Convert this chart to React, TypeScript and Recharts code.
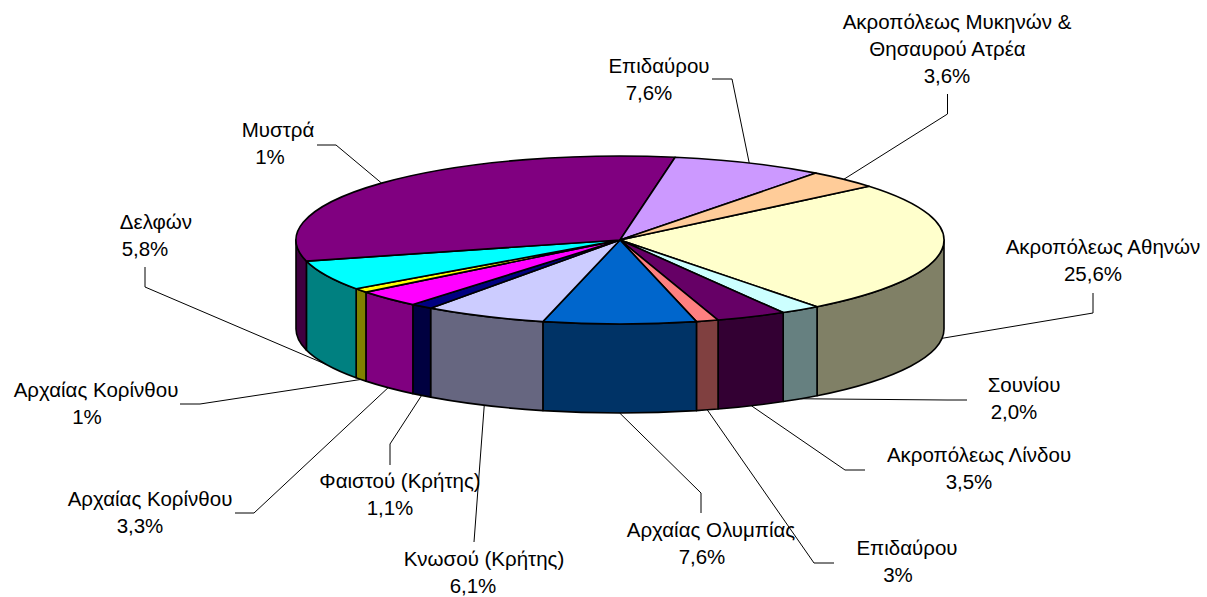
import { PieChart, Pie } from "recharts";

const SITES = [
  "Ακροπόλεως Αθηνών",
  "Σουνίου",
  "Ακροπόλεως Λίνδου",
  "Επιδαύρου",
  "Αρχαίας Ολυμπίας",
  "Κνωσού (Κρήτης)",
  "Φαιστού (Κρήτης)",
  "Αρχαίας Κορίνθου",
  "Αρχαίας Κορίνθου",
  "Δελφών",
  "Μυστρά",
  "Επιδαύρου",
  "Ακροπόλεως Μυκηνών &|Θησαυρού Ατρέα",
];
// slice sizes
const SHARES = [25.6, 2.0, 3.5, 1.1, 7.6, 6.1, 1.1, 3.3, 0.8, 5.8, 31.7, 7.6, 3.6];
// printed labels, the source clips a few of them ("1%", "3%")
const SHARE_LABELS = ["25,6%", "2,0%", "3,5%", "3%", "7,6%", "6,1%", "1,1%", "3,3%", "1%", "5,8%", "1%", "7,6%", "3,6%"];
const TOP_COLORS = ["#FFFFCC", "#CCFFFF", "#660066", "#FF8080", "#0066CC", "#CCCCFF", "#000080", "#FF00FF", "#FFFF00", "#00FFFF", "#800080", "#CC99FF", "#FFCC99"];
const SIDE_COLORS = ["#808066", "#668080", "#330033", "#804040", "#003366", "#666680", "#000040", "#800080", "#808000", "#008080", "#400040", "#665080", "#806650"];

// per-line text centres, first baseline, then the elbow/end of each leader line
const LABEL_X = [[1103, 1093], [1024, 1014], [979, 969], [907, 898], [711, 702], [484, 473], [400, 390], [150, 140], [96, 87], [156, 145], [278, 270], [659, 649], [957, 947.5, 947]];
const LABEL_Y = [254, 392, 462, 555, 537, 566, 488, 506, 397, 229, 137, 73, 29];
const LEADER_ENDS = [
  [[1093, 313], [1093, 293]],
  [[947, 400], [967, 400]],
  [[845, 470], [865, 470]],
  [[814, 563], [834, 563]],
  [[701, 493], [701, 513]],
  [[474, 542]],
  [[390, 444], [390, 465]],
  [[254, 513], [235, 513]],
  [[200, 404], [180, 404]],
  [[145, 287], [145, 267]],
  [[336, 145], [317, 145]],
  [[732, 79], [712, 79]],
  [[947.5, 114], [947.5, 94]],
];

const CX = 620;
const CY = 240;
const RX = 324;
const RY = 84;
const DEPTH = 89;
const LINE_HEIGHT = 27;
const FONT = "'Liberation Sans', Arial, sans-serif";

const data = SITES.map((name, i) => ({
  name,
  value: SHARES[i],
  fill: TOP_COLORS[i],
  side: SIDE_COLORS[i],
}));

const RAD = Math.PI / 180;

// flatten a recharts angle onto the tilted disc
function rim(angle: number, dy = 0) {
  return {
    x: CX + RX * Math.cos(angle * RAD),
    y: CY - RY * Math.sin(angle * RAD) + dy,
  };
}

function Slice(props: any) {
  const { startAngle, endAngle, fill, side } = props;
  const a = rim(startAngle);
  const b = rim(endAngle);
  const span = startAngle - endAngle;
  const top = `M${CX},${CY} L${a.x},${a.y} A${RX},${RY} 0 ${span > 180 ? 1 : 0} 1 ${b.x},${b.y} Z`;

  // the wall only shows on the front half, recharts angles 180..360
  let s = ((startAngle % 360) + 360) % 360;
  if (s < 180) s += 360;
  const wallStart = Math.min(s, 360);
  const wallEnd = Math.max(s - span, 180);
  let wall = null;
  if (wallStart > wallEnd) {
    const p = rim(wallStart);
    const q = rim(wallEnd);
    const p2 = rim(wallStart, DEPTH);
    const q2 = rim(wallEnd, DEPTH);
    wall = (
      <path
        d={`M${p.x},${p.y} A${RX},${RY} 0 0 1 ${q.x},${q.y} L${q2.x},${q2.y} A${RX},${RY} 0 0 0 ${p2.x},${p2.y} Z`}
        fill={side}
        stroke="#000"
        strokeWidth={1.6}
        strokeLinejoin="round"
      />
    );
  }

  return (
    <g>
      {wall}
      <path d={top} fill={fill} stroke="#000" strokeWidth={1.6} strokeLinejoin="round" />
    </g>
  );
}

function LeaderLine(props: any) {
  const { midAngle, index } = props;
  const m = ((midAngle % 360) + 360) % 360;
  const start = rim(midAngle, m > 180 ? DEPTH : 0);
  const pts = [[start.x, start.y], ...LEADER_ENDS[index]];
  return (
    <polyline
      points={pts.map((p) => p.join(",")).join(" ")}
      fill="none"
      stroke="#000"
      strokeWidth={1}
    />
  );
}

function SliceLabel(props: any) {
  const { index } = props;
  const lines = [...SITES[index].split("|"), SHARE_LABELS[index]];
  return (
    <text fontFamily={FONT} fontSize={20.5} fill="#000" textAnchor="middle">
      {lines.map((line, i) => (
        <tspan key={i} x={LABEL_X[index][i]} y={LABEL_Y[index] + i * LINE_HEIGHT}>
          {line}
        </tspan>
      ))}
    </text>
  );
}

export default function App() {
  return (
    <div style={{ position: "absolute", left: 0, top: 0, width: 1207, height: 597, background: "#fff" }}>
      <PieChart width={1207} height={597} margin={{ top: 0, right: 0, bottom: 0, left: 0 }}>
        <Pie
          data={data}
          dataKey="value"
          nameKey="name"
          cx={CX}
          cy={CY}
          innerRadius={0}
          outerRadius={RX}
          startAngle={39.8}
          endAngle={-320.2}
          shape={Slice}
          label={SliceLabel}
          labelLine={LeaderLine}
          isAnimationActive={false}
        />
      </PieChart>
    </div>
  );
}
